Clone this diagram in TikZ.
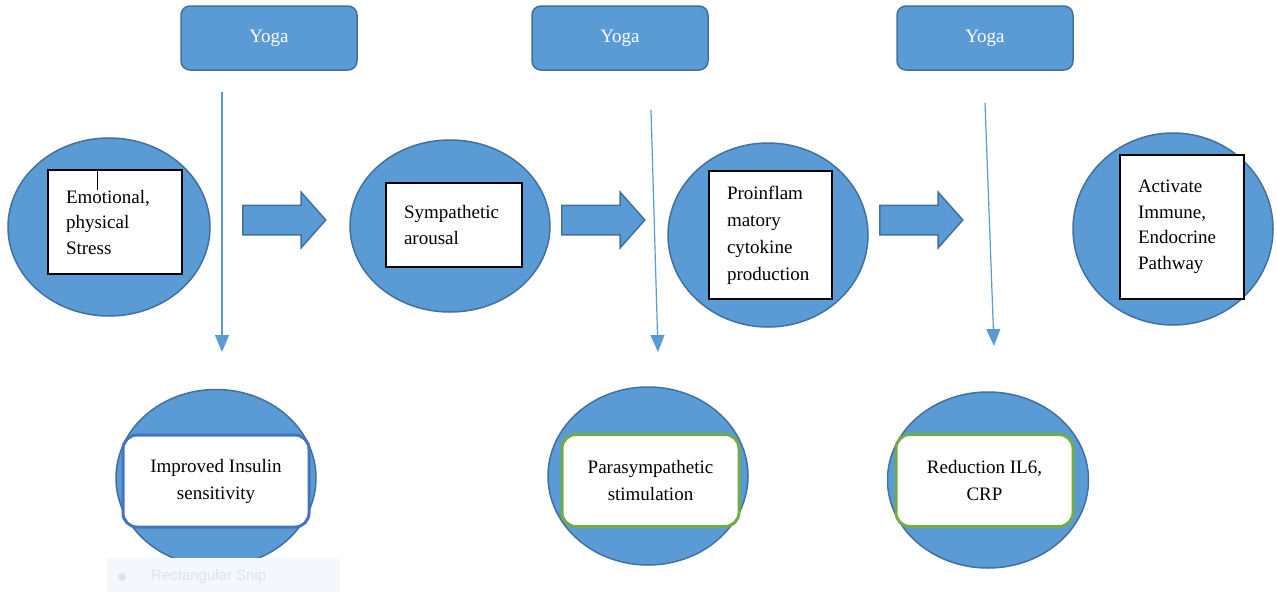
\documentclass[tikz,border=0pt]{standalone}
\usepackage{fontspec}
\setmainfont{Liberation Serif}
\newfontfamily\snipfont{Liberation Sans}
\usetikzlibrary{shapes.geometric,shapes.arrows,arrows.meta}
\definecolor{fillblue}{HTML}{5B9BD5}
\definecolor{edgeblue}{HTML}{41719C}
\definecolor{inblue}{HTML}{4472C4}
\definecolor{ingreen}{HTML}{70AD47}
\definecolor{snipbg}{HTML}{F4F7FB}
\definecolor{sniptext}{HTML}{DDE4EC}
\begin{document}
\begin{tikzpicture}[x=1pt,y=-1pt,
  oval/.style={ellipse, draw=edgeblue, fill=fillblue, line width=1.5pt, inner sep=0pt},
  infobox/.style={draw=black, fill=white, line width=1.2pt, align=left, inner xsep=18pt, inner ysep=0pt, font=\fontsize{19}{25.5}\selectfont},
  yogabox/.style={rounded corners=9pt, draw=edgeblue, fill=fillblue, line width=1.5pt, minimum width=176pt, minimum height=64pt, text=white, font=\fontsize{19}{23}\selectfont},
  resultbox/.style={rounded corners=14pt, fill=white, line width=3pt, align=center, minimum height=92pt, inner sep=0pt, font=\fontsize{19}{27}\selectfont},
  blockarrow/.style={single arrow, draw=edgeblue, fill=fillblue, line width=1.5pt, minimum height=83pt, inner xsep=0pt, inner ysep=14pt, single arrow head extend=13pt, single arrow tip angle=97, anchor=tail},
  thinarrow/.style={draw=fillblue, line width=1.2pt, -{Triangle[width=14pt,length=17pt]}}
]
\useasboundingbox (0,0) rectangle (1277,592);
\fill[white] (0,0) rectangle (1277,592);

% Yoga boxes
\node[yogabox] (y1) at (269,38) {Yoga};
\node[yogabox] (y2) at (620,38) {Yoga};
\node[yogabox] (y3) at (985,38) {Yoga};

% top ovals
\node[oval, minimum width=202pt, minimum height=178pt] (o1) at (109,227) {};
\node[oval, minimum width=200pt, minimum height=172pt] (o2) at (450,226) {};
\node[oval, minimum width=200pt, minimum height=184pt] (o3) at (768,235) {};
\node[oval, minimum width=200pt, minimum height=192pt] (o4) at (1173,229) {};

% boxes in ovals
\node[infobox, text width=98pt, minimum height=104pt] (b1) at (115,222) {Emotional,\\physical\\Stress};
\draw[black, line width=1pt] (97,171) -- (97,190);
\node[infobox, text width=100pt, minimum height=84pt] (b2) at (454,225) {Sympathetic\\arousal};
\node[infobox, text width=87pt, minimum height=128pt, font=\fontsize{19}{27}\selectfont] (b3) at (770.5,235) {Proinflam\\matory\\cytokine\\production};
\node[infobox, text width=88pt, minimum height=144pt] (b4) at (1182,227) {Activate\\Immune,\\Endocrine\\Pathway};

% block arrows
\node[blockarrow] (a1) at (242,220) {};
\node[blockarrow] (a2) at (561,220) {};
\node[blockarrow] (a3) at (879,220) {};

% thin arrows
\coordinate (t1s) at (222,92);
\coordinate (t1e) at (222,352);
\coordinate (t2s) at (651,110);
\coordinate (t2e) at (658,352);
\coordinate (t3s) at (985,103);
\coordinate (t3e) at (994,346);
\draw[thinarrow] (t1s) -- (t1e);
\draw[thinarrow] (t2s) -- (t2e);
\draw[thinarrow] (t3s) -- (t3e);

% bottom ovals
\node[oval, minimum width=200pt, minimum height=177pt] (q1) at (216,478) {};
\node[oval, minimum width=200pt, minimum height=178pt] (q2) at (648,476) {};
\node[oval, minimum width=201pt, minimum height=176pt] (q3) at (988,480) {};

% result boxes
\node[resultbox, draw=inblue, minimum width=186pt] (r1) at (216,481) {Improved Insulin\\sensitivity};
\node[resultbox, draw=ingreen, minimum width=177pt] (r2) at (650.5,480.5) {Parasympathetic\\stimulation};
\node[resultbox, draw=ingreen, minimum width=177pt] (r3) at (984.5,480.5) {Reduction IL6,\\CRP};

% faint snip overlay
\node[fill=snipbg, minimum width=233pt, minimum height=34pt, inner sep=0pt] (snip) at (223.5,575) {};
\fill[sniptext] (122,577) circle (4);
\node[text=sniptext, font=\snipfont\fontsize{15}{18}\selectfont, anchor=west, inner sep=0pt] (sniplabel) at (151,577) {Rectangular Snip};
\end{tikzpicture}
\end{document}
